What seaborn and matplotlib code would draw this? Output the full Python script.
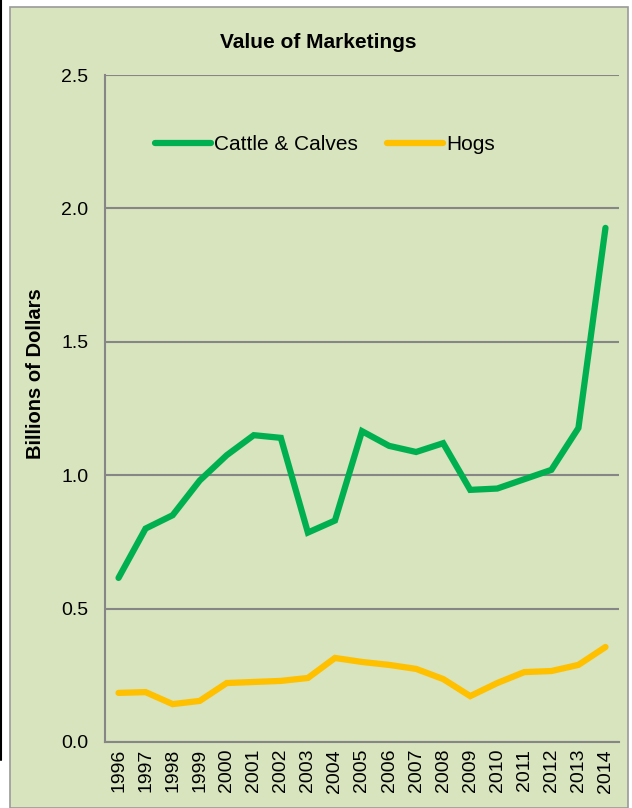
import seaborn as sns
import pandas as pd
import numpy as np
import matplotlib.pyplot as plt
from matplotlib.patches import Rectangle
from matplotlib.lines import Line2D

years = list(range(1996, 2015))
cattle = [0.615, 0.80, 0.85, 0.98, 1.075, 1.15, 1.14, 0.785, 0.83, 1.165,
          1.11, 1.087, 1.12, 0.945, 0.95, 0.985, 1.02, 1.177, 1.927]
hogs = [0.184, 0.187, 0.142, 0.154, 0.221, 0.225, 0.229, 0.24, 0.315, 0.30,
        0.289, 0.274, 0.236, 0.172, 0.221, 0.262, 0.266, 0.289, 0.356]
series_names = ["Cattle & Calves", "Hogs"]
colors = ["#00B050", "#FFC000"]

bg = "#D7E4BD"
grid_col = "#868686"


def main():
    sns.set_style("white")
    plt.rcParams['font.family'] = ['Liberation Sans', 'DejaVu Sans']
    plt.rcParams['text.color'] = 'black'
    plt.rcParams['xtick.color'] = 'black'
    plt.rcParams['ytick.color'] = 'black'
    plt.rcParams['axes.labelcolor'] = 'black'

    data = pd.DataFrame({
        "Year": years * 2,
        "Value": cattle + hogs,
        "Series": [series_names[0]] * len(years) + [series_names[1]] * len(years),
    })

    fig = plt.figure(figsize=(6.32, 8.08), dpi=100)
    fig.patch.set_facecolor("white")
    # chart area box
    fig.patches.append(Rectangle((10 / 632, 0), 618 / 632, 801 / 808, transform=fig.transFigure,
                                 facecolor=bg, edgecolor="#9a9a9a", linewidth=1.2, zorder=-5))
    fig.lines.append(Line2D([1 / 632, 1 / 632], [1, 48 / 808], transform=fig.transFigure,
                            color="black", linewidth=1.5, zorder=-5))

    ax = fig.add_axes([105 / 632, 66 / 808, 514 / 632, 667 / 808])
    ax.set_facecolor("none")

    sns.lineplot(data=data, x="Year", y="Value", hue="Series", palette=colors,
                 linewidth=4.5, ax=ax, legend=False, zorder=3)
    for ln in ax.lines:
        ln.set_solid_capstyle("round")
        ln.set_solid_joinstyle("miter")

    ax.set_ylim(0, 2.5)
    ax.set_yticks(np.arange(0, 2.51, 0.5))
    ax.set_yticklabels(["%.1f" % v for v in np.arange(0, 2.51, 0.5)], fontsize=14)
    ax.yaxis.grid(True, color=grid_col, linewidth=1.5)
    ax.set_axisbelow(True)

    ax.set_xlim(years[0] - 0.5, years[-1] + 0.5)
    ax.set_xticks(years)
    ax.set_xticklabels([str(y) for y in years], rotation=90, fontsize=14)
    ax.set_xticks(np.arange(years[0] - 0.5, years[-1] + 0.6, 1), minor=True)
    ax.tick_params(axis="x", which="major", length=0, pad=5)
    ax.tick_params(axis="x", which="minor", length=5, width=1.3, color=grid_col, direction="out")
    ax.tick_params(axis="y", length=0, pad=12)

    for s in ["top", "right"]:
        ax.spines[s].set_visible(False)
    for s in ["left", "bottom"]:
        ax.spines[s].set_color(grid_col)
        ax.spines[s].set_linewidth(1.5)

    ax.set_xlabel("")
    ax.set_ylabel("Billions of Dollars", fontsize=14.5, fontweight="bold", labelpad=12, y=0.552)

    fig.text(318 / 632, 1 - 43 / 808, "Value of Marketings", ha="center", va="center",
             fontsize=15, fontweight="bold")

    handles = [Line2D([0], [0], color=c, linewidth=4.5) for c in colors]
    ax.legend(handles, series_names, loc="center", bbox_to_anchor=(0.428, 0.896),
              ncol=2, frameon=False, fontsize=15, handlelength=2.7, columnspacing=1.4,
              handletextpad=0.15)

    plt.savefig("out.png", dpi=100)


if __name__ == "__main__":
    main()
